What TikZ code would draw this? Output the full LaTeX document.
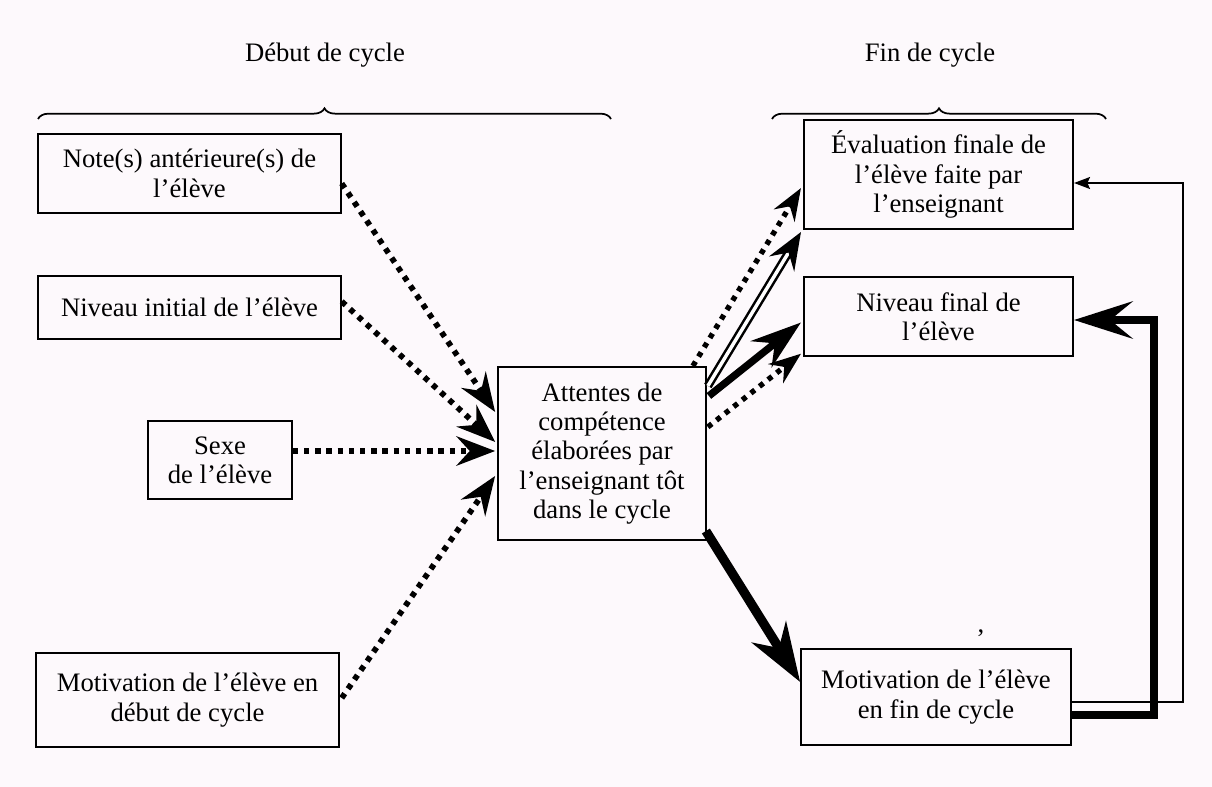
\documentclass[tikz,border=0pt]{standalone}
\usepackage{fontspec}
\setmainfont{Liberation Serif}
\usetikzlibrary{arrows.meta,calc,decorations.pathreplacing}
\definecolor{bgtint}{RGB}{253,249,252}
\begin{document}
\begin{tikzpicture}[x=0.75pt,y=-0.75pt,
  txt/.style={font=\fontsize{20pt}{22pt}\selectfont},
  box/.style={draw,line width=1.3pt,align=center,inner sep=0pt,txt},
  lbl/.style={txt,inner sep=0pt},
  dotarrow/.style={line width=4.3pt,dash pattern=on 4pt off 4.4pt,-{Stealth[length=29pt,width=22pt,inset=10pt]}},
  dotarrowR/.style={line width=4pt,dash pattern=on 3.8pt off 4.4pt,-{Stealth[length=24pt,width=18pt,inset=8pt]}},
  dblarrow/.style={double,line width=1.9pt,double distance=2.6pt,-{Stealth[length=28pt,width=22pt,inset=10pt]}},
  thickR/.style={line width=5.5pt,-{Stealth[length=38pt,width=25pt,inset=13pt]}},
  thickM/.style={line width=7pt,-{Stealth[length=44pt,width=30pt,inset=14pt]}},
  thickFB/.style={line width=5.5pt,-{Stealth[length=44pt,width=28pt,inset=17pt]}},
  thinFB/.style={line width=1.1pt,-{Stealth[length=12pt,width=9pt,inset=2pt]}},
  bracestyle/.style={line width=1.3pt,decorate,decoration={brace,amplitude=8pt}}
]
\fill[bgtint] (0,0) rectangle (1212,787);
\useasboundingbox (0,0) rectangle (1212,787);

% labels
\node[lbl] (debut) at (325,55) {Début de cycle};
\node[lbl] (fin) at (930,55) {Fin de cycle};
\draw[bracestyle] (38,119) -- (611,119);
\draw[bracestyle] (772,119) -- (1106,119);

% left boxes
\node[box,minimum width=227pt,minimum height=59pt] (note) at (189.5,173.5) {Note(s) antérieure(s) de\\l’élève};
\node[box,minimum width=227pt,minimum height=47pt] (nivi) at (189.5,307.5) {Niveau initial de l’élève};
\node[box,minimum width=108pt,minimum height=58.5pt] (sexe) at (220,460) {Sexe\\de l’élève};
\node[box,minimum width=227pt,minimum height=70.5pt] (motd) at (187.5,700) {Motivation de l’élève en\\début de cycle};

% centre
\node[box,minimum width=156pt,minimum height=130pt] (cen) at (602,453.5) {Attentes de\\compétence\\élaborées par\\l’enseignant tôt\\dans le cycle};

% right boxes
\node[box,minimum width=202pt,minimum height=82pt] (eval) at (938.5,174.5) {Évaluation finale de\\l’élève faite par\\l’enseignant};
\node[box,minimum width=202pt,minimum height=59pt] (nivf) at (938.5,316.5) {Niveau final de\\l’élève};
\node[box,minimum width=202.5pt,minimum height=72pt] (motf) at (936,697) {Motivation de l’élève\\en fin de cycle};
\node[lbl] (comma) at (981,633) {,};

% left arrows
\draw[dotarrow] ($(note.east)+(0,10)$) -- ($(cen.north west)+(-2,46)$);
\draw[dotarrow] ($(nivi.east)+(0,-6)$) -- ($(cen.north west)+(-2,76)$);
\draw[dotarrow] ($(sexe.east)+(0,-9)$) -- ($(cen.west)+(-2,-2.5)$);
\draw[dotarrow] ($(motd.east)+(2,-2)$) -- ($(cen.north west)+(-2,110)$);

% right arrows
\draw[dotarrowR] ($(cen.north east)+(-14,0)$) -- ($(eval.south west)+(-2,-42)$);
\draw[dblarrow] ($(cen.north east)+(1,20)$) -- ($(eval.south west)+(-2,2)$);
\draw[thickR] ($(cen.north east)+(2,30)$) -- ($(nivf.west)+(-2,6)$);
\draw[dotarrowR] ($(cen.north east)+(1,61)$) -- ($(nivf.south west)+(-2,-3)$);
\draw[thickM] ($(cen.south east)+(-1,-10)$) -- ($(motf.west)+(0,-15)$);

% feedback
\draw[thinFB] ($(motf.east)+(0,5)$) -| ($(eval.east)+(109,8.5)$) -- ($(eval.east)+(0,8.5)$);
\draw[thickFB] ($(motf.east)+(0,18)$) -| ($(nivf.east)+(80,3.5)$) -- ($(nivf.east)+(0,3.5)$);
\end{tikzpicture}
\end{document}
